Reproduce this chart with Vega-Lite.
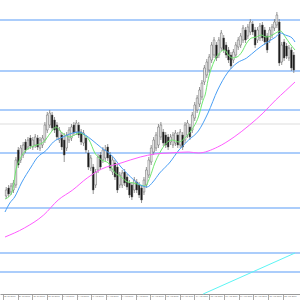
{
  "$schema": "https://vega.github.io/schema/vega-lite/v6.json",
  "width": 300,
  "height": 294,
  "autosize": {"type": "none"},
  "padding": {"left": 0, "top": 0, "right": 0, "bottom": 6},
  "background": "white",
  "config": {
    "view": {"stroke": null},
    "axisX": {
      "labelExpr": "['28 Jul 2008','29 Jul 2008','30 Jul 2008','31 Jul 2008','1 Aug 2008','4 Aug 2008','5 Aug 2008','6 Aug 2008','7 Aug 2008','8 Aug 2008','11 Aug 2008','12 Aug 2008','13 Aug 2008','14 Aug 2008','15 Aug 2008','18 Aug 2008','19 Aug 2008','20 Aug 2008','21 Aug 2008','22 Aug 2008'][round((datum.value + 1.4) / 6.1)]",
      "title": null, "grid": false,
      "domainColor": "#999999", "domainWidth": 1,
      "tickColor": "#aaaaaa", "tickSize": 6, "tickWidth": 1,
      "labelFontSize": 2.2, "labelColor": "#666666", "labelFont": "Liberation Sans",
      "labelAlign": "left", "labelPadding": -5.3, "labelOffset": 0.8, "labelOverlap": false, "labelFlush": false, "labelBound": false
    }
  },
  "datasets": {
    "candles": [
      {"i":0,"o":98,"h":107,"l":95,"c":104},{"i":1,"o":106,"h":109,"l":97,"c":100},{"i":2,"o":102,"h":111,"l":99,"c":108},{"i":3,"o":104,"h":114,"l":101,"c":111},
      {"i":4,"o":109,"h":137,"l":106,"c":134},{"i":5,"o":144,"h":147,"l":126,"c":129},{"i":6,"o":134,"h":149,"l":131,"c":146},{"i":7,"o":139,"h":152,"l":136,"c":149},
      {"i":8,"o":152,"h":155,"l":141,"c":144},{"i":9,"o":147,"h":157,"l":144,"c":154},{"i":10,"o":156,"h":159,"l":145,"c":148},{"i":11,"o":147,"h":157,"l":144,"c":154},
      {"i":12,"o":149,"h":160,"l":146,"c":157},{"i":13,"o":156,"h":159,"l":144,"c":147},{"i":14,"o":146,"h":157,"l":143,"c":154},{"i":15,"o":149,"h":159,"l":146,"c":156},
      {"i":16,"o":154,"h":172,"l":151,"c":169},{"i":17,"o":164,"h":182,"l":161,"c":179},{"i":18,"o":169,"h":184,"l":166,"c":181},{"i":19,"o":179,"h":182,"l":163,"c":166},
      {"i":20,"o":174,"h":177,"l":161,"c":164},{"i":21,"o":169,"h":172,"l":154,"c":157},{"i":22,"o":154,"h":167,"l":151,"c":164},{"i":23,"o":159,"h":162,"l":144,"c":147},
      {"i":24,"o":154,"h":161,"l":132,"c":139},{"i":25,"o":146,"h":162,"l":143,"c":159},{"i":26,"o":154,"h":167,"l":151,"c":164},{"i":27,"o":156,"h":170,"l":153,"c":167},
      {"i":28,"o":169,"h":172,"l":158,"c":161},{"i":29,"o":162,"h":174,"l":159,"c":171},{"i":30,"o":169,"h":172,"l":156,"c":159},{"i":31,"o":162,"h":165,"l":149,"c":152},
      {"i":32,"o":151,"h":164,"l":148,"c":161},{"i":33,"o":156,"h":159,"l":141,"c":144},{"i":34,"o":141,"h":144,"l":124,"c":127},{"i":35,"o":126,"h":139,"l":123,"c":136},
      {"i":36,"o":127,"h":130,"l":100,"c":104},{"i":37,"o":109,"h":125,"l":106,"c":122},{"i":38,"o":124,"h":140,"l":121,"c":137},{"i":39,"o":139,"h":142,"l":124,"c":127},
      {"i":40,"o":134,"h":147,"l":131,"c":144},{"i":41,"o":136,"h":149,"l":133,"c":144},{"i":42,"o":147,"h":150,"l":133,"c":136},{"i":43,"o":139,"h":142,"l":123,"c":126},
      {"i":44,"o":122,"h":137,"l":119,"c":134},{"i":45,"o":131,"h":134,"l":114,"c":117},{"i":46,"o":127,"h":130,"l":101,"c":104},{"i":47,"o":109,"h":122,"l":106,"c":119},
      {"i":48,"o":109,"h":124,"l":106,"c":121},{"i":49,"o":122,"h":125,"l":108,"c":111},{"i":50,"o":117,"h":120,"l":104,"c":107},{"i":51,"o":111,"h":114,"l":96,"c":99},
      {"i":52,"o":109,"h":112,"l":94,"c":97},{"i":53,"o":104,"h":117,"l":101,"c":114},{"i":54,"o":112,"h":115,"l":101,"c":104},{"i":55,"o":109,"h":112,"l":96,"c":99},
      {"i":56,"o":106,"h":109,"l":91,"c":94},{"i":57,"o":102,"h":117,"l":99,"c":114},{"i":58,"o":109,"h":127,"l":106,"c":124},{"i":59,"o":119,"h":137,"l":116,"c":134},
      {"i":60,"o":132,"h":149,"l":129,"c":146},{"i":61,"o":142,"h":157,"l":139,"c":154},{"i":62,"o":146,"h":162,"l":143,"c":159},{"i":63,"o":149,"h":170,"l":146,"c":167},
      {"i":64,"o":157,"h":172,"l":154,"c":169},{"i":65,"o":162,"h":165,"l":148,"c":151},{"i":66,"o":159,"h":162,"l":146,"c":149},{"i":67,"o":157,"h":160,"l":144,"c":147},
      {"i":68,"o":152,"h":160,"l":149,"c":157},{"i":69,"o":149,"h":162,"l":146,"c":159},{"i":70,"o":151,"h":164,"l":148,"c":161},{"i":71,"o":159,"h":162,"l":146,"c":149},
      {"i":72,"o":149,"h":165,"l":146,"c":162},{"i":73,"o":159,"h":162,"l":144,"c":147},{"i":74,"o":154,"h":172,"l":151,"c":169},{"i":75,"o":159,"h":174,"l":156,"c":171},
      {"i":76,"o":167,"h":170,"l":154,"c":157},{"i":77,"o":164,"h":182,"l":161,"c":179},{"i":78,"o":176,"h":192,"l":173,"c":189},{"i":79,"o":184,"h":199,"l":181,"c":196},
      {"i":80,"o":190,"h":207,"l":187,"c":204},{"i":81,"o":197,"h":214,"l":194,"c":211},{"i":82,"o":212,"h":229,"l":209,"c":226},{"i":83,"o":219,"h":235,"l":216,"c":232},
      {"i":84,"o":224,"h":240,"l":221,"c":237},{"i":85,"o":234,"h":252,"l":231,"c":249},{"i":86,"o":239,"h":257,"l":236,"c":254},{"i":87,"o":249,"h":252,"l":233,"c":236},
      {"i":88,"o":239,"h":257,"l":236,"c":254},{"i":89,"o":246,"h":264,"l":243,"c":261},{"i":90,"o":256,"h":259,"l":241,"c":244},{"i":91,"o":249,"h":252,"l":236,"c":239},
      {"i":92,"o":244,"h":247,"l":231,"c":234},{"i":93,"o":239,"h":242,"l":225,"c":228},{"i":94,"o":234,"h":245,"l":231,"c":242},{"i":95,"o":239,"h":252,"l":236,"c":249},
      {"i":96,"o":247,"h":257,"l":244,"c":254},{"i":97,"o":249,"h":261,"l":246,"c":258},{"i":98,"o":254,"h":269,"l":251,"c":266},{"i":99,"o":264,"h":267,"l":251,"c":254},
      {"i":100,"o":258,"h":270,"l":255,"c":267},{"i":101,"o":262,"h":275,"l":259,"c":272},{"i":102,"o":270,"h":273,"l":259,"c":262},{"i":103,"o":264,"h":267,"l":246,"c":249},
      {"i":104,"o":254,"h":267,"l":251,"c":264},{"i":105,"o":256,"h":271,"l":253,"c":268},{"i":106,"o":269,"h":272,"l":253,"c":256},{"i":107,"o":264,"h":267,"l":249,"c":252},
      {"i":108,"o":258,"h":261,"l":241,"c":244},{"i":109,"o":254,"h":267,"l":251,"c":264},{"i":110,"o":259,"h":270,"l":256,"c":267},{"i":111,"o":266,"h":275,"l":263,"c":272},
      {"i":112,"o":269,"h":282,"l":266,"c":279},{"i":113,"o":272,"h":275,"l":228,"c":231},{"i":114,"o":232,"h":252,"l":229,"c":249},{"i":115,"o":252,"h":255,"l":233,"c":236},
      {"i":116,"o":248,"h":251,"l":235,"c":238},{"i":117,"o":236,"h":249,"l":233,"c":246},{"i":118,"o":244,"h":247,"l":223,"c":226},{"i":119,"o":239,"h":242,"l":221,"c":224}
    ],
    "levels": [
      {"p":274},{"p":223},{"p":184},{"p":141},{"p":86},{"p":41},{"p":22}
    ],
    "grid": [
      {"p":170}
    ],
    "ma": [
      {"s":"g","i":-0.5,"v":95},{"s":"g","i":2.3,"v":101},{"s":"g","i":4.3,"v":127},{"s":"g","i":5.5,"v":134},{"s":"g","i":7.5,"v":142},
      {"s":"g","i":10.3,"v":147},{"s":"g","i":12.7,"v":149},{"s":"g","i":15.5,"v":152},{"s":"g","i":18.3,"v":161},{"s":"g","i":20.7,"v":167},
      {"s":"g","i":22.7,"v":162},{"s":"g","i":24.3,"v":159},{"s":"g","i":26.3,"v":157},{"s":"g","i":28.3,"v":159},{"s":"g","i":30.3,"v":161},
      {"s":"g","i":32.3,"v":159},{"s":"g","i":34.3,"v":154},{"s":"g","i":36.7,"v":141},{"s":"g","i":39.5,"v":134},{"s":"g","i":42.3,"v":131},
      {"s":"g","i":44.7,"v":122},{"s":"g","i":47.5,"v":117},{"s":"g","i":50.3,"v":112},{"s":"g","i":52.7,"v":111},{"s":"g","i":55.5,"v":109},
      {"s":"g","i":57.5,"v":108},{"s":"g","i":59.5,"v":117},{"s":"g","i":61.5,"v":131},{"s":"g","i":63.5,"v":141},{"s":"g","i":66.3,"v":151},
      {"s":"g","i":68.7,"v":154},{"s":"g","i":71.5,"v":152},{"s":"g","i":74.3,"v":157},{"s":"g","i":76.7,"v":164},{"s":"g","i":79.5,"v":177},
      {"s":"g","i":81.5,"v":194},{"s":"g","i":82.3,"v":199},{"s":"g","i":83.5,"v":214},{"s":"g","i":85.1,"v":227},{"s":"g","i":86.7,"v":236},
      {"s":"g","i":88.7,"v":242},{"s":"g","i":90.3,"v":244},{"s":"g","i":91.9,"v":239},{"s":"g","i":93.5,"v":236},{"s":"g","i":95.5,"v":237},
      {"s":"g","i":97.5,"v":242},{"s":"g","i":99.5,"v":251},{"s":"g","i":101.5,"v":256},{"s":"g","i":103.5,"v":257},{"s":"g","i":105.5,"v":259},
      {"s":"g","i":107.5,"v":257},{"s":"g","i":109.5,"v":258},{"s":"g","i":111.5,"v":261},{"s":"g","i":113.5,"v":263},{"s":"g","i":115.5,"v":257},
      {"s":"g","i":117.5,"v":250},{"s":"g","i":119.5,"v":244},
      {"s":"b","i":-0.5,"v":82},{"s":"b","i":1.5,"v":91},{"s":"b","i":3.5,"v":97},{"s":"b","i":6.3,"v":111},{"s":"b","i":10.3,"v":127},
      {"s":"b","i":12.7,"v":136},{"s":"b","i":16.7,"v":144},{"s":"b","i":19.5,"v":152},{"s":"b","i":23.5,"v":157},{"s":"b","i":27.5,"v":161},
      {"s":"b","i":30.3,"v":162},{"s":"b","i":32.7,"v":159},{"s":"b","i":35.5,"v":154},{"s":"b","i":39.5,"v":146},{"s":"b","i":43.5,"v":139},
      {"s":"b","i":47.5,"v":127},{"s":"b","i":51.5,"v":117},{"s":"b","i":55.5,"v":109},{"s":"b","i":58.3,"v":107},{"s":"b","i":60.7,"v":112},
      {"s":"b","i":63.5,"v":121},{"s":"b","i":67.5,"v":131},{"s":"b","i":71.5,"v":144},{"s":"b","i":75.5,"v":154},{"s":"b","i":79.5,"v":163},
      {"s":"b","i":83.5,"v":181},{"s":"b","i":87.5,"v":204},{"s":"b","i":91.5,"v":221},{"s":"b","i":95.5,"v":231},{"s":"b","i":99.5,"v":236},
      {"s":"b","i":103.5,"v":244},{"s":"b","i":107.5,"v":251},{"s":"b","i":111.5,"v":257},{"s":"b","i":113.5,"v":261},{"s":"b","i":115.5,"v":259},
      {"s":"b","i":118.3,"v":256},{"s":"b","i":119.5,"v":252},
      {"s":"m","i":-0.5,"v":57},{"s":"m","i":7.5,"v":66},{"s":"m","i":15.5,"v":79},{"s":"m","i":21.5,"v":94},{"s":"m","i":27.5,"v":104},
      {"s":"m","i":33.5,"v":116},{"s":"m","i":39.5,"v":125},{"s":"m","i":47.5,"v":131},{"s":"m","i":55.5,"v":137},{"s":"m","i":61.5,"v":140},
      {"s":"m","i":67.5,"v":141},{"s":"m","i":75.5,"v":142},{"s":"m","i":79.5,"v":141},{"s":"m","i":87.5,"v":147},{"s":"m","i":94.3,"v":157},
      {"s":"m","i":100.7,"v":169},{"s":"m","i":106.3,"v":181},{"s":"m","i":111.5,"v":194},{"s":"m","i":115.5,"v":203},{"s":"m","i":119.5,"v":212},
      {"s":"c","i":81.5,"v":0},{"s":"c","i":119.5,"v":41}
    ]
  },
  "layer": [
    {
      "data": {"name": "grid"},
      "mark": {"type": "rule", "color": "#dddddd", "strokeWidth": 1},
      "encoding": {
        "y": {"field": "p", "type": "quantitative", "scale": {"domain": [0, 294], "nice": false, "zero": false}, "axis": null}
      }
    },
    {
      "data": {"name": "levels"},
      "mark": {"type": "rule", "color": "#abcdfb", "strokeWidth": 2},
      "encoding": {
        "y": {"field": "p", "type": "quantitative", "scale": {"domain": [0, 294], "nice": false, "zero": false}, "axis": null}
      }
    },
    {
      "data": {"name": "candles"},
      "mark": {"type": "rule", "strokeWidth": 0.8, "color": "#7a7a7a"},
      "encoding": {
        "x": {"field": "i", "type": "quantitative", "scale": {"domain": [-0.5, 119.5], "nice": false, "zero": false},
          "axis": {"values": [-1.4, 4.7, 10.8, 16.9, 23.0, 29.1, 35.2, 41.3, 47.4, 53.5, 59.6, 65.7, 71.8, 77.9, 84.0, 90.1, 96.2, 102.3, 108.4, 114.5]}},
        "y": {"field": "l", "type": "quantitative", "scale": {"domain": [0, 294], "nice": false, "zero": false}, "axis": null},
        "y2": {"field": "h"}
      }
    },
    {
      "data": {"name": "candles"},
      "mark": {"type": "bar", "size": 1.7, "stroke": "#5a5a5a", "strokeWidth": 0.5},
      "encoding": {
        "x": {"field": "i", "type": "quantitative",
          "axis": {"values": [-1.4, 4.7, 10.8, 16.9, 23.0, 29.1, 35.2, 41.3, 47.4, 53.5, 59.6, 65.7, 71.8, 77.9, 84.0, 90.1, 96.2, 102.3, 108.4, 114.5]}},
        "y": {"field": "o", "type": "quantitative", "axis": null},
        "y2": {"field": "c"},
        "fill": {"condition": {"test": "datum.c >= datum.o", "value": "#ffffff"}, "value": "#111111"}
      }
    },
    {
      "data": {"name": "ma"},
      "mark": {"type": "line", "strokeWidth": 1, "interpolate": "monotone"},
      "encoding": {
        "x": {"field": "i", "type": "quantitative",
          "axis": {"values": [-1.4, 4.7, 10.8, 16.9, 23.0, 29.1, 35.2, 41.3, 47.4, 53.5, 59.6, 65.7, 71.8, 77.9, 84.0, 90.1, 96.2, 102.3, 108.4, 114.5]}},
        "y": {"field": "v", "type": "quantitative", "axis": null},
        "color": {"field": "s", "type": "nominal", "scale": {"domain": ["g", "b", "m", "c"], "range": ["#6fe86f", "#4a9ff5", "#ff5cff", "#5cf5f5"]}, "legend": null},
        "order": {"field": "i", "type": "quantitative"}
      }
    }
  ]
}
